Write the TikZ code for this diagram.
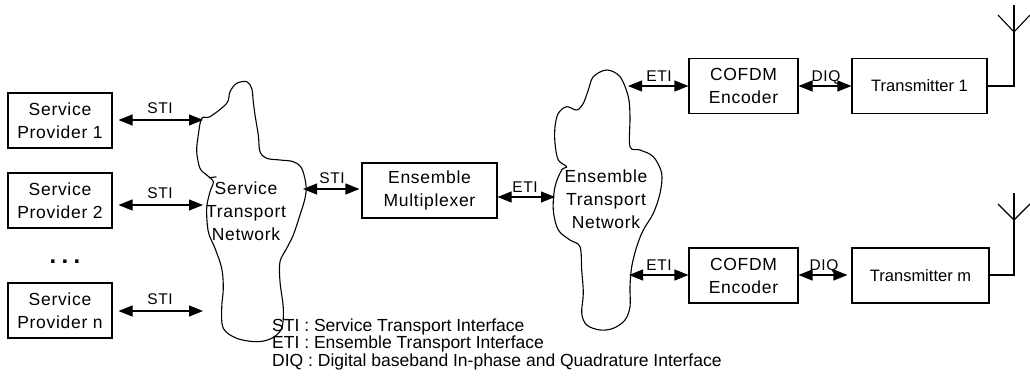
\documentclass[tikz,border=0pt]{standalone}
\usepackage{fontspec}
\setmainfont{Liberation Sans}
\newfontfamily\boxfamily[LetterSpace=4]{Liberation Sans}
\newfontfamily\dotfamily[LetterSpace=22]{Liberation Sans}
\usetikzlibrary{arrows.meta}
\newcommand\boxfnt{\boxfamily\fontsize{17.5}{23}\selectfont}
\newcommand\txfnt{\fontsize{16.5}{20}\selectfont}
\newcommand\lblfnt{\boxfamily\fontsize{15.5}{18}\selectfont}
\newcommand\legfnt{\fontsize{17.5}{17.5}\selectfont}
\newcommand\dotfnt{\dotfamily\bfseries\fontsize{24}{24}\selectfont}
\begin{document}
\begin{tikzpicture}[x=1pt,y=-1pt,
  blk/.style={draw, line width=1.1pt, inner sep=0pt, minimum height=55pt, align=center, font=\boxfnt},
  conn/.style={line width=1.1pt, {Triangle[length=14pt,width=11pt]}-{Triangle[length=14pt,width=11pt]}},
  lbl/.style={font=\lblfnt, inner sep=0pt, anchor=base},
  cloudline/.style={draw, line width=1.1pt, line join=round},
  ctext/.style={align=center, font=\boxfnt, inner sep=0pt},
  leg/.style={font=\legfnt, inner sep=0pt, anchor=base west},
  ant/.style={draw, line width=1.1pt}]
\path[use as bounding box] (0,0) rectangle (1030,375);

% service providers
\node[blk, minimum width=104pt] (sp1) at (60,120.5) {Service\\Provider 1};
\node[blk, minimum width=104pt] (sp2) at (60,200.5) {Service\\Provider 2};
\node[blk, minimum width=104pt] (spn) at (60,310.5) {Service\\Provider n};
\node[font=\dotfnt, inner sep=0pt, anchor=base] (dots) at (65,263) {...};

% service transport network cloud
\draw[cloudline] plot[smooth cycle, tension=0.55] coordinates {
 (201.7,118.3) (210,116.7) (226.7,103.3) (230,91.7) (236.7,83.3) (246.7,81.7)
 (251.7,88.3) (253.3,101.7) (255,115) (258.3,135) (260,151.7) (266.7,158.3)
 (280,160) (293.3,161.7) (301.7,168.3) (306,185) (305,198.3) (300,215)
 (293.3,235) (286.7,248.3) (280,261.7) (280,281.7) (283.3,308.3) (281.7,328.3)
 (271.7,338.3) (256.7,341.7) (236.7,338.3) (223.3,328.3) (221.7,308.3)
 (223.3,288.3) (221.7,268.3) (215,248.3) (208.3,231.7) (206.7,208.3)
 (210,191.7) (213.3,181.7) (206.7,175) (200,168.3) (196.7,151.7) (198.3,135)};
\draw[cloudline] (209,177.8) -- (216.5,176.8);
\node[ctext] (stn) at (246,211) {Service\\Transport\\Network};

% ensemble multiplexer
\node[blk, minimum width=135pt] (mux) at (429.5,190.5) {Ensemble\\Multiplexer};

% ensemble transport network cloud
\draw[cloudline] plot[smooth cycle, tension=0.55] coordinates {
 (593.3,76.7) (606.7,70) (620,76.7) (628.3,96.7) (630,116.7) (630,146.7)
 (640,150) (653.3,156.7) (661.7,173.3) (660,193.3) (653.3,213.3) (643.3,230)
 (636.7,246.7) (631.7,266.7) (630,286.7) (630,306.7) (625,320) (613.3,328.3)
 (600,330) (586.7,325) (581.7,313.3) (583.3,293.3) (581.7,270) (580,246.7)
 (570,240) (558.3,230) (553.3,210) (555,186.7) (561.7,170) (566.7,166.7)
 (558.3,160) (555,143.3) (555,126.7) (558.3,113.3) (566.7,106.7) (576.7,110)
 (583.3,103.3) (588.3,90)};
\node[ctext] (etn) at (606,199) {Ensemble\\Transport\\Network};

% encoders and transmitters
\node[blk, minimum width=109pt] (cof1) at (743.5,86) {COFDM\\Encoder};
\node[blk, minimum width=135pt, font=\txfnt] (tx1) at (919.5,86) {Transmitter 1};
\node[blk, minimum width=109pt] (cof2) at (743.5,275.5) {COFDM\\Encoder};
\node[blk, minimum width=137pt, font=\txfnt] (tx2) at (920.5,275.5) {Transmitter m};

% connector end points on clouds
\coordinate (c1a) at (203,120);
\coordinate (c1b) at (203,205);
\coordinate (c1c) at (203,311);
\coordinate (c1r) at (303,189);
\coordinate (c2l) at (555,197);
\coordinate (c2t) at (628,86);
\coordinate (c2b) at (629,275);

% connectors
\draw[conn, shorten <=6pt] (sp1.east |- c1a) -- (c1a);
\draw[conn, shorten <=6pt] (sp2.east |- c1b) -- (c1b);
\draw[conn, shorten <=6pt] (spn.east |- c1c) -- (c1c);
\draw[conn, shorten >=2pt] (c1r) -- (mux.west |- c1r);
\draw[conn] (mux.east |- c2l) -- (c2l);
\draw[conn] (c2t) -- (cof1.west);
\draw[conn] (cof1.east) -- (tx1.west);
\draw[conn] (c2b) -- (cof2.west |- c2b);
\draw[conn, shorten >=4pt] (cof2.east |- c2b) -- (tx2.west |- c2b);

% labels
\node[lbl] (l1) at (160,113) {STI};
\node[lbl] (l2) at (160,198) {STI};
\node[lbl] (l3) at (160,304) {STI};
\node[lbl] (l4) at (332,183) {STI};
\node[lbl] (l5) at (525,192.5) {ETI};
\node[lbl] (l6) at (659,81) {ETI};
\node[lbl] (l7) at (826,81) {DIQ};
\node[lbl] (l8) at (659,270) {ETI};
\node[lbl] (l9) at (824,270) {DIQ};

% antennas
\coordinate (a1) at (1014,86);
\coordinate (a1v) at (1014,32);
\coordinate (a1t) at (1014,5);
\coordinate (a1l) at (998,15);
\coordinate (a1r) at (1030,15);
\draw[ant] (tx1.east) -- (a1) -- (a1t);
\draw[ant] (a1l) -- (a1v) -- (a1r);
\coordinate (a2) at (1014,275);
\coordinate (a2v) at (1014,220);
\coordinate (a2t) at (1014,193);
\coordinate (a2l) at (998,204);
\coordinate (a2r) at (1030,204);
\draw[ant] (tx2.east |- a2) -- (a2) -- (a2t);
\draw[ant] (a2l) -- (a2v) -- (a2r);

% legend
\node[leg] (lg1) at (272,331) {STI : Service Transport Interface};
\node[leg] (lg2) at (272,348.5) {ETI : Ensemble Transport Interface};
\node[leg] (lg3) at (272,366) {DIQ : Digital baseband In-phase and Quadrature Interface};
\end{tikzpicture}
\end{document}
